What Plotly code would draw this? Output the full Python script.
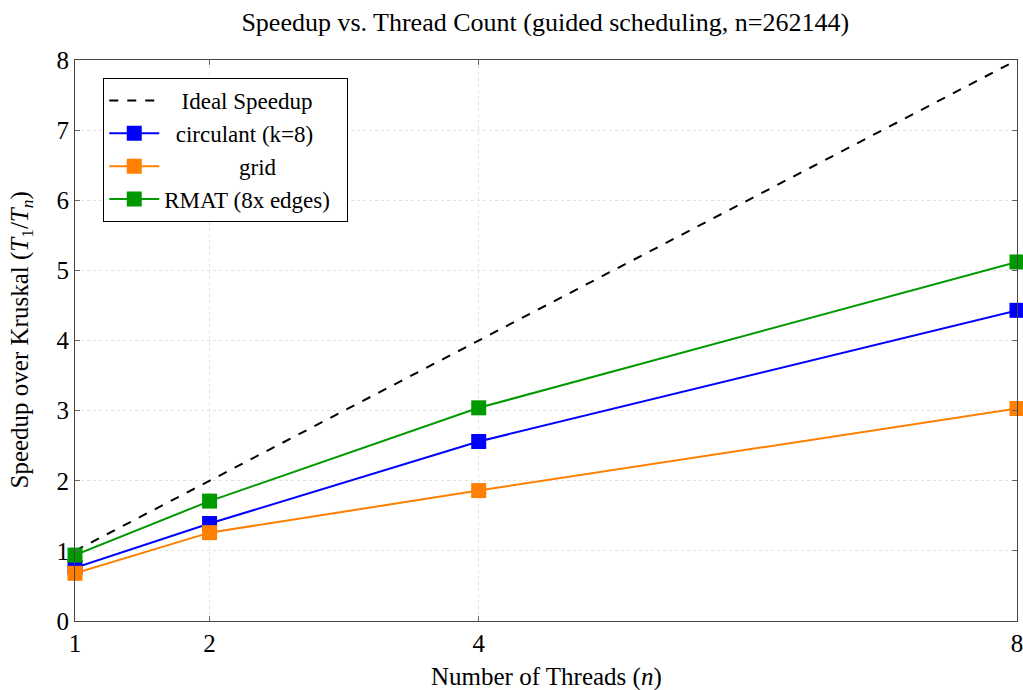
import plotly.graph_objects as go

threads = [1, 2, 4, 8]
ideal = [1, 2, 4, 8]
circulant = [0.76, 1.39, 2.56, 4.43]
grid = [0.68, 1.26, 1.86, 3.03]
rmat = [0.94, 1.71, 3.04, 5.12]
names = ["Ideal Speedup", "circulant (k=8)", "grid", "RMAT (8x edges)"]
pads = [3, 2, 13, 0]

font_family = "Liberation Serif"
NB = "\u00a0"

def label(i):
    return NB * pads[i] + names[i] + NB * 2

fig = go.Figure()
fig.add_trace(go.Scatter(x=threads, y=ideal, mode="lines", name=label(0),
                         line=dict(color="black", dash="dash", width=2)))
fig.add_trace(go.Scatter(x=threads, y=circulant, mode="lines+markers", name=label(1),
                         line=dict(color="#0000ff", width=2), cliponaxis=False,
                         marker=dict(symbol="square", size=15, color="#0000ff")))
fig.add_trace(go.Scatter(x=threads, y=grid, mode="lines+markers", name=label(2),
                         line=dict(color="#ff8000", width=2), cliponaxis=False,
                         marker=dict(symbol="square", size=15, color="#ff8000")))
fig.add_trace(go.Scatter(x=threads, y=rmat, mode="lines+markers", name=label(3),
                         line=dict(color="#009900", width=2), cliponaxis=False,
                         marker=dict(symbol="square", size=15, color="#009900")))

axis_common = dict(showline=True, linecolor="#444", linewidth=1, mirror="ticks",
                   ticks="inside", ticklen=5, tickcolor="#666",
                   showgrid=True, gridcolor="#e2e2e2", griddash="dot", gridwidth=1,
                   zeroline=False, ticklabeloverflow="allow", automargin=False,
                   tickfont=dict(size=25, family=font_family, color="black"))

fig.update_layout(
    width=1023, height=690,
    margin=dict(l=75, r=6, t=60, b=69),
    paper_bgcolor="white", plot_bgcolor="white",
    font=dict(family=font_family, color="black"),
    title=dict(text="Speedup vs. Thread Count (guided scheduling, n=262144)",
               x=0.533, xanchor="center", y=0.968, yanchor="middle",
               font=dict(size=26, family=font_family)),
    xaxis=dict(range=[1, 8], tickvals=threads, ticktext=[str(t) for t in threads],
               **axis_common),
    yaxis=dict(range=[0, 8], dtick=1, **axis_common),
    legend=dict(x=0.03, y=0.968, xanchor="left", yanchor="top",
                bordercolor="black", borderwidth=1, bgcolor="white",
                font=dict(size=23, family=font_family), itemwidth=50,
                tracegroupgap=0),
    showlegend=True,
    annotations=[
        dict(text="Number of Threads (<i>n</i>)", xref="paper", yref="paper",
             x=0.5, y=-(677 - 621) / 561, xanchor="center", yanchor="middle",
             showarrow=False, font=dict(size=25, family=font_family)),
        dict(text="Speedup over Kruskal (<i>T</i><sub>1</sub>/<i>T</i><sub><i>n</i></sub>)",
             xref="paper", yref="paper", textangle=-90,
             x=-(75 - 21) / 942, y=0.5, xanchor="center", yanchor="middle",
             showarrow=False, font=dict(size=25, family=font_family)),
    ],
)

fig.write_html("out.html")
